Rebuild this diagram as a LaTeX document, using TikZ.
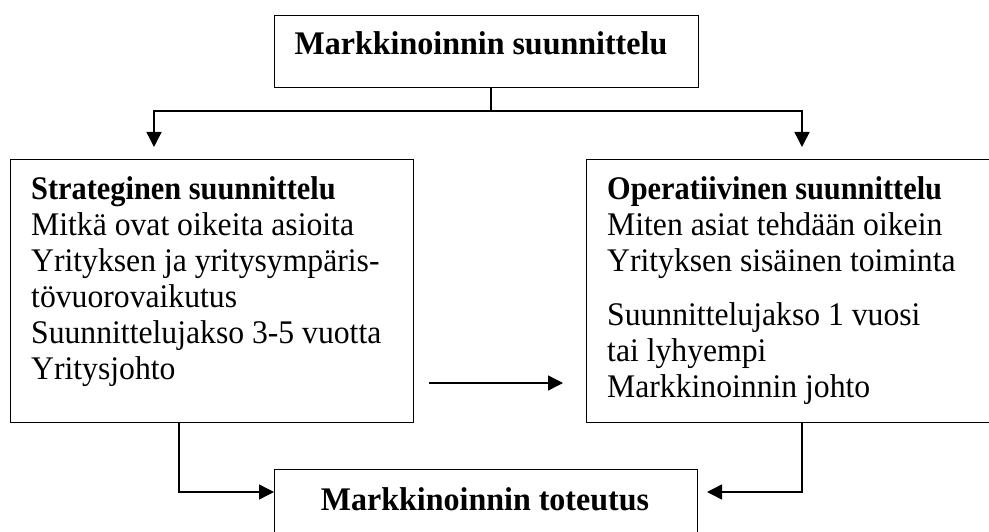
\documentclass[tikz,border=0pt]{standalone}
\usepackage{fontspec}
\setmainfont{Liberation Serif}[FakeStretch=0.96,BoldFeatures={FakeStretch=0.92}]
\newfontfamily\hdfont{Liberation Serif}[FakeStretch=0.97,BoldFeatures={FakeStretch=0.97}]
\usetikzlibrary{arrows.meta}
\begin{document}
\begin{tikzpicture}[x=1pt,y=-1pt,
  box/.style={draw,line width=1.4pt,inner sep=0pt,anchor=north west},
  txt/.style={inner sep=0pt,anchor=base west,font=\fontsize{33}{36}\selectfont},
  ctxt/.style={inner sep=0pt,anchor=base,font=\hdfont\fontsize{33}{36}\selectfont\bfseries},
  conn/.style={line width=1.4pt},
  arr/.style={conn,-{Triangle[width=15pt,length=15pt]}}]
\useasboundingbox (0,0) rectangle (989,532);
% boxes
\node[box,minimum width=424pt,minimum height=72pt] (top) at (274,15) {};
\node[box,minimum width=403pt,minimum height=263pt] (strat) at (10,159) {};
\node[box,minimum width=412pt,minimum height=263pt] (oper) at (586,159) {};
\node[box,minimum width=423pt,minimum height=100pt] (impl) at (274,469) {};
% texts
\node[ctxt] (toptxt) at (481,55) {Markkinoinnin suunnittelu};
\node[ctxt] (impltxt) at (485,510) {Markkinoinnin toteutus};
\node[txt] (strattxt) at (31,200) {\begin{tabular}[t]{@{}l@{}}
\textbf{Strateginen suunnittelu}\\
Mitkä ovat oikeita asioita\\
Yrityksen ja yritysympäris-\\
tövuorovaikutus\\
Suunnittelujakso 3-5 vuotta\\
Yritysjohto
\end{tabular}};
\node[txt] (opertxt) at (607,200) {\begin{tabular}[t]{@{}l@{}}
\textbf{Operatiivinen suunnittelu}\\
Miten asiat tehdään oikein\\
Yrityksen sisäinen toiminta\\[18pt]
Suunnittelujakso 1 vuosi\\
tai lyhyempi\\
Markkinoinnin johto
\end{tabular}};
% coordinates
\coordinate (split) at (491,111);
\coordinate (lt) at (154,111);
\coordinate (rt) at (802,111);
\coordinate (lend) at (154,147);
\coordinate (rend) at (802,147);
\coordinate (lb) at (179,492);
\coordinate (rb) at (802,492);
\coordinate (rtip) at (707,492);
\coordinate (ma) at (429,383);
\coordinate (mb) at (563,383);
% connectors
\draw[conn] (top.south -| split) -- (split);
\draw[arr] (split) -- (lt) -- (lend);
\draw[arr] (split) -- (rt) -- (rend);
\draw[arr] (strat.south -| lb) -- (lb) -- (lb -| impl.west);
\draw[arr] (oper.south -| rb) -- (rb) -- (rtip);
\draw[arr] (ma) -- (mb);
\end{tikzpicture}
\end{document}
